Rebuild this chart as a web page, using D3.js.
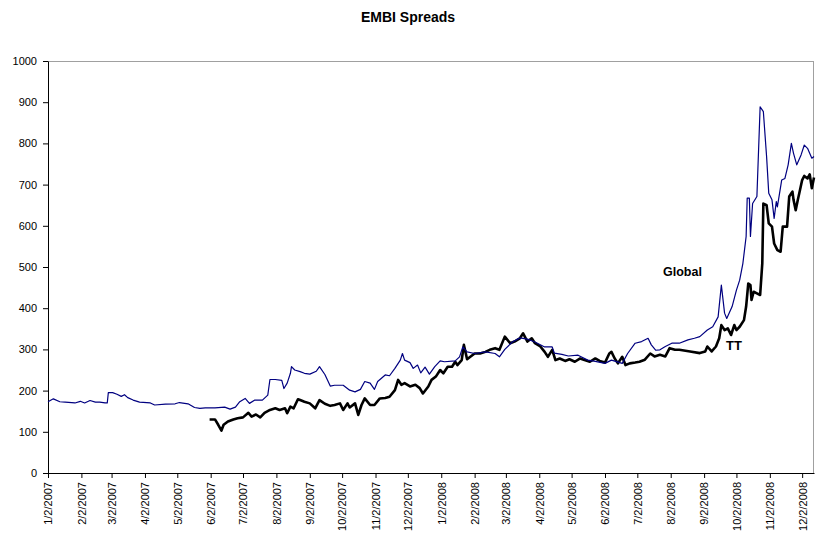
<!DOCTYPE html>
<html>
<head>
<meta charset="utf-8">
<script src="https://cdn.jsdelivr.net/npm/d3@7"></script>
<style>
  body { margin: 0; background: #fff; }
  text { font-family: "Liberation Sans", Arial, sans-serif; }
</style>
</head>
<body>
<div id="chart"></div>
<script>
// EMBI Spreads: Global vs TT, daily-ish readings (bps)
var globalDates = [
  "2007-01-02","2007-01-07","2007-01-13","2007-01-18","2007-01-27","2007-02-01","2007-02-05","2007-02-10",
  "2007-02-15","2007-02-19","2007-02-24","2007-02-26","2007-02-27","2007-03-03","2007-03-07","2007-03-11",
  "2007-03-14","2007-03-17","2007-03-22","2007-03-28","2007-04-07","2007-04-11","2007-04-21","2007-04-30",
  "2007-05-04","2007-05-12","2007-05-18","2007-05-23","2007-05-28","2007-06-06","2007-06-15","2007-06-20",
  "2007-06-25","2007-06-29","2007-07-04","2007-07-08","2007-07-13","2007-07-20","2007-07-25","2007-07-27",
  "2007-08-01","2007-08-07","2007-08-09","2007-08-12","2007-08-15","2007-08-16","2007-08-19","2007-08-24",
  "2007-08-28","2007-09-02","2007-09-08","2007-09-11","2007-09-16","2007-09-21","2007-09-25","2007-10-03",
  "2007-10-09","2007-10-14","2007-10-19","2007-10-23","2007-10-28","2007-11-01","2007-11-04","2007-11-11",
  "2007-11-15","2007-11-20","2007-11-25","2007-11-27","2007-11-29","2007-12-04","2007-12-07","2007-12-11",
  "2007-12-14","2007-12-18","2007-12-22","2007-12-27","2008-01-01","2008-01-05","2008-01-15","2008-01-19",
  "2008-01-22","2008-01-26","2008-02-02","2008-02-12","2008-02-21","2008-02-25","2008-03-01","2008-03-08",
  "2008-03-15","2008-03-22","2008-03-29","2008-04-07","2008-04-14","2008-04-16","2008-04-23","2008-04-29",
  "2008-05-08","2008-05-17","2008-05-24","2008-06-02","2008-06-08","2008-06-18","2008-06-23","2008-06-30",
  "2008-07-06","2008-07-12","2008-07-15","2008-07-19","2008-07-23","2008-07-28","2008-08-03","2008-08-10",
  "2008-08-18","2008-08-24","2008-08-29","2008-09-05","2008-09-10","2008-09-15","2008-09-18","2008-09-21",
  "2008-09-23","2008-09-28","2008-10-02","2008-10-05","2008-10-08","2008-10-11","2008-10-12","2008-10-14",
  "2008-10-15","2008-10-17","2008-10-21","2008-10-24","2008-10-27","2008-10-30","2008-11-01","2008-11-04",
  "2008-11-06","2008-11-08","2008-11-09","2008-11-13","2008-11-16","2008-11-19","2008-11-22","2008-11-24",
  "2008-11-27","2008-12-01","2008-12-04","2008-12-07","2008-12-11","2008-12-13"
];
var globalValues = [
  173,180,173,172,170,174,170,176,
  172,172,170,170,195,195,191,186,
  190,183,177,172,170,165,167,168,
  171,168,159,157,158,158,160,155,
  160,173,181,169,177,177,189,227,
  227,225,205,218,242,258,250,246,
  242,240,247,258,239,211,213,213,
  201,197,203,222,218,203,222,238,
  236,254,274,290,274,268,254,262,
  243,257,240,258,272,270,272,282,
  306,294,290,294,290,282,300,318,
  328,325,318,306,306,291,288,284,
  286,274,271,266,274,266,290,315,
  319,327,311,298,299,307,315,315,
  323,327,331,347,355,379,456,388,
  375,404,444,468,509,574,667,667,
  574,654,671,889,877,768,679,663,
  618,659,646,711,715,748,800,776,
  748,772,796,788,764,768
];

var ttDates = [
  "2007-06-01","2007-06-06","2007-06-09","2007-06-12","2007-06-14","2007-06-18","2007-06-23","2007-06-27",
  "2007-07-02","2007-07-07","2007-07-10","2007-07-14","2007-07-18","2007-07-22","2007-07-27","2007-08-01",
  "2007-08-05","2007-08-10","2007-08-12","2007-08-15","2007-08-18","2007-08-22","2007-08-24","2007-08-28",
  "2007-09-02","2007-09-07","2007-09-11","2007-09-16","2007-09-21","2007-09-25","2007-09-30","2007-10-03",
  "2007-10-07","2007-10-09","2007-10-14","2007-10-17","2007-10-20","2007-10-23","2007-10-28","2007-11-01",
  "2007-11-06","2007-11-11","2007-11-15","2007-11-20","2007-11-23","2007-11-26","2007-11-29","2007-12-04",
  "2007-12-09","2007-12-13","2007-12-16","2007-12-21","2007-12-24","2007-12-28","2008-01-01","2008-01-04",
  "2008-01-08","2008-01-12","2008-01-15","2008-01-17","2008-01-21","2008-01-23","2008-01-26","2008-01-29",
  "2008-02-02","2008-02-07","2008-02-12","2008-02-16","2008-02-21","2008-02-25","2008-03-01","2008-03-06",
  "2008-03-10","2008-03-15","2008-03-18","2008-03-22","2008-03-26","2008-03-29","2008-04-03","2008-04-07",
  "2008-04-10","2008-04-14","2008-04-17","2008-04-21","2008-04-26","2008-04-30","2008-05-05","2008-05-10",
  "2008-05-14","2008-05-19","2008-05-24","2008-05-28","2008-06-02","2008-06-06","2008-06-08","2008-06-11",
  "2008-06-14","2008-06-18","2008-06-21","2008-06-25","2008-06-30","2008-07-04","2008-07-09","2008-07-14",
  "2008-07-18","2008-07-23","2008-07-28","2008-08-01","2008-08-06","2008-08-10","2008-08-20","2008-08-29",
  "2008-09-03","2008-09-05","2008-09-09","2008-09-13","2008-09-16","2008-09-18","2008-09-21","2008-09-24",
  "2008-09-27","2008-09-30","2008-10-02","2008-10-05","2008-10-09","2008-10-11","2008-10-13","2008-10-15",
  "2008-10-16","2008-10-18","2008-10-21","2008-10-24","2008-10-26","2008-10-27","2008-10-30","2008-11-01",
  "2008-11-04","2008-11-06","2008-11-09","2008-11-12","2008-11-14","2008-11-18","2008-11-20","2008-11-22",
  "2008-11-23","2008-11-24","2008-11-26","2008-11-28","2008-11-30","2008-12-02","2008-12-04","2008-12-07",
  "2008-12-09","2008-12-11","2008-12-13"
];
var ttValues = [
  130,130,117,103,117,125,130,133,
  135,146,137,142,135,146,153,157,
  153,157,145,161,157,179,177,173,
  169,157,177,168,163,165,169,153,
  169,159,169,141,165,181,165,165,
  181,182,185,201,226,214,218,210,
  214,206,193,210,226,234,250,242,
  258,258,270,262,274,311,276,282,
  290,290,294,299,303,299,331,315,
  319,327,339,319,327,315,307,294,
  282,299,274,278,272,276,270,278,
  274,270,278,272,268,290,294,278,
  266,282,262,266,268,270,275,290,
  283,287,283,303,299,299,295,291,
  295,307,295,307,327,359,347,351,
  335,359,347,355,371,404,460,456,
  420,440,436,432,509,654,650,606,
  598,557,541,537,598,598,671,679,
  683,663,638,663,687,711,721,715,
  725,691,717
];

var tickLabels = [
  "1/2/2007","2/2/2007","3/2/2007","4/2/2007","5/2/2007","6/2/2007","7/2/2007","8/2/2007",
  "9/2/2007","10/2/2007","11/2/2007","12/2/2007","1/2/2008","2/2/2008","3/2/2008","4/2/2008",
  "5/2/2008","6/2/2008","7/2/2008","8/2/2008","9/2/2008","10/2/2008","11/2/2008","12/2/2008"
];
var yTicks = [0, 100, 200, 300, 400, 500, 600, 700, 800, 900, 1000];

var margin = { top: 61, right: 3, bottom: 64, left: 48 },
    width = 817 - margin.left - margin.right,
    height = 537 - margin.top - margin.bottom;

var parseIso = d3.timeParse("%Y-%m-%d");
var parseTick = d3.timeParse("%m/%d/%Y");

var globalData = globalDates.map(function (d, i) { return { date: parseIso(d), value: globalValues[i] }; });
var ttData = ttDates.map(function (d, i) { return { date: parseIso(d), value: ttValues[i] }; });

var svg = d3.select("#chart")
    .append("svg")
    .attr("width", 817)
    .attr("height", 537);

// title
svg.append("text")
    .attr("x", 408)
    .attr("y", 22)
    .attr("text-anchor", "middle")
    .style("font-size", "14px")
    .style("font-weight", "bold")
    .text("EMBI Spreads");

var g = svg.append("g")
    .attr("transform", "translate(" + margin.left + "," + margin.top + ")");

var x = d3.scaleTime()
    .domain([parseIso("2007-01-02"), parseIso("2008-12-13")])
    .range([0, width]);

var y = d3.scaleLinear()
    .domain([0, 1000])
    .range([height, 0]);

// gray plot frame (top and right)
g.append("line")
    .attr("x1", 0).attr("x2", width).attr("y1", 0.5).attr("y2", 0.5)
    .style("stroke", "#a0a0a0");
g.append("line")
    .attr("x1", width - 0.5).attr("x2", width - 0.5).attr("y1", 0).attr("y2", height)
    .style("stroke", "#a0a0a0");

// y axis
var yAxis = g.append("g")
    .call(d3.axisLeft(y).tickValues(yTicks).tickFormat(d3.format("d"))
        .tickSize(5).tickSizeOuter(0).tickPadding(6));
yAxis.selectAll("text").style("font-size", "11px").style("fill", "#000")
    .style("font-family", "'Liberation Sans', Arial, sans-serif");

// x axis
var xAxis = g.append("g")
    .attr("transform", "translate(0," + height + ")")
    .call(d3.axisBottom(x)
        .tickValues(tickLabels.map(parseTick))
        .tickFormat(function (d, i) { return tickLabels[i]; })
        .tickSize(5)
        .tickSizeOuter(0));
xAxis.selectAll("text")
    .style("font-size", "11px")
    .style("fill", "#000")
    .style("font-family", "'Liberation Sans', Arial, sans-serif")
    .attr("text-anchor", "end")
    .attr("transform", "rotate(-90)")
    .attr("x", -9)
    .attr("y", 0)
    .attr("dy", "0.35em");

g.selectAll(".domain").style("stroke", "#000");
g.selectAll(".tick line").style("stroke", "#000");

var line = d3.line()
    .x(function (d) { return x(d.date); })
    .y(function (d) { return y(d.value); });

// TT series (thick black)
g.append("path")
    .datum(ttData)
    .attr("d", line)
    .style("fill", "none")
    .style("stroke", "#000")
    .style("stroke-width", 2.6)
    .style("stroke-linejoin", "round");

// Global series (thin navy)
g.append("path")
    .datum(globalData)
    .attr("d", line)
    .style("fill", "none")
    .style("stroke", "#000080")
    .style("stroke-width", 1.2)
    .style("stroke-linejoin", "round");

// series labels
svg.append("text")
    .attr("x", 663)
    .attr("y", 276)
    .style("font-size", "12.5px")
    .style("font-weight", "bold")
    .style("fill", "#000")
    .text("Global");

svg.append("text")
    .attr("x", 726)
    .attr("y", 350)
    .style("font-size", "13px")
    .style("font-weight", "bold")
    .style("fill", "#000")
    .text("TT");
</script>
</body>
</html>
